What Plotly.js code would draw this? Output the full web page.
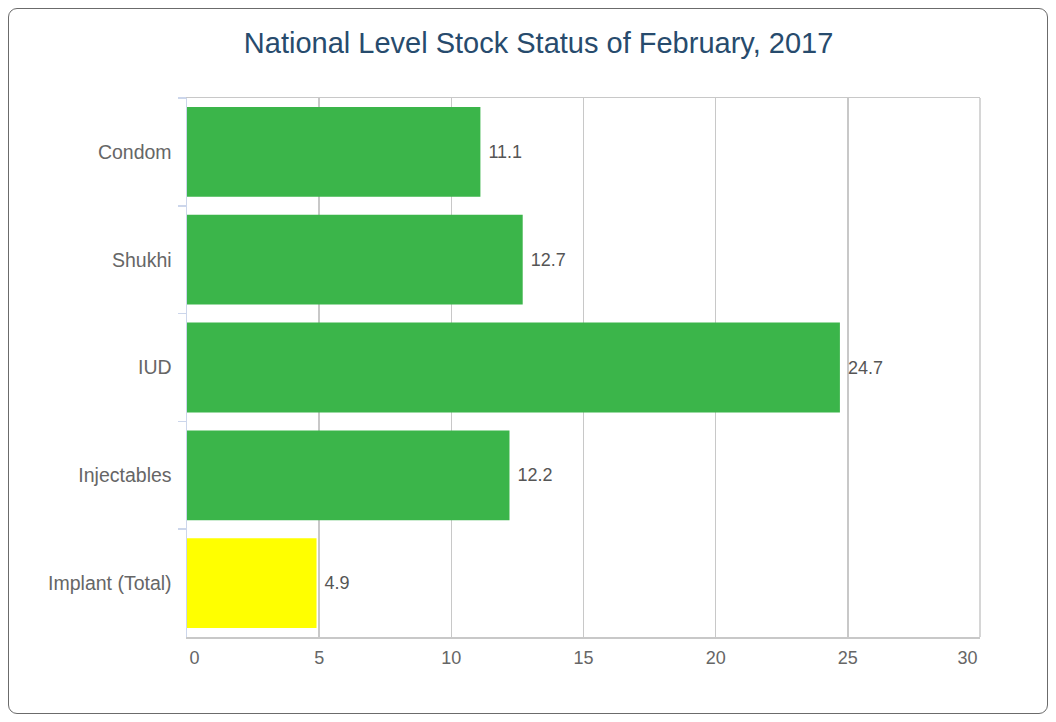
<!DOCTYPE html>
<html>
<head>
<meta charset="utf-8">
<script src="https://cdn.plot.ly/plotly-3.0.1.min.js"></script>
<style>
  html, body { margin: 0; padding: 0; background: #fff; }
  #wrap { position: relative; width: 1056px; height: 722px; }
  #chart { width: 1056px; height: 722px; }
  #frame { position: absolute; left: 8px; top: 8px; width: 1040px; height: 706px;
           border: 1.5px solid #6b6b6b; border-radius: 9px; pointer-events: none; box-sizing: border-box; }
</style>
</head>
<body>
<div id="wrap">
  <div id="chart"></div>
  <div id="frame"></div>
</div>
<script>
const categories = ["Condom", "Shukhi", "IUD", "Injectables", "Implant (Total)"];
const values = [11.1, 12.7, 24.7, 12.2, 4.9];
const barColors = ["#3bb54a", "#3bb54a", "#3bb54a", "#3bb54a", "#ffff00"];
const xTicks = [0, 5, 10, 15, 20, 25, 30];
const xTickText = ["\u00a0\u00a0\u00a00", "5", "10", "15", "20", "25", "30\u00a0\u00a0\u00a0\u00a0\u00a0"];

const fontFamily = "'Liberation Sans', Arial, Helvetica, sans-serif";
const NB = "\u00a0";

const trace = {
  type: "bar",
  orientation: "h",
  y: categories,
  x: values,
  marker: { color: barColors, line: { width: 0 } },
  text: values.map(v => NB + v.toFixed(1)),
  textposition: "outside",
  cliponaxis: false,
  textfont: { family: fontFamily, size: 18, color: "#555555" },
  hoverinfo: "x+y"
};

const layout = {
  width: 1056,
  height: 722,
  margin: { l: 187, r: 76, t: 98, b: 85 },
  paper_bgcolor: "#ffffff",
  plot_bgcolor: "#ffffff",
  showlegend: false,
  bargap: 0.167,
  font: { family: fontFamily, color: "#666666" },
  title: {
    text: "National Level Stock Status of February, 2017",
    font: { family: fontFamily, size: 29, color: "#274b6d" },
    x: 0.51, xanchor: "center",
    y: 0.94, yanchor: "middle"
  },
  xaxis: {
    range: [0, 30],
    tickvals: xTicks,
    ticktext: xTickText,
    showgrid: true,
    gridcolor: "#c8c8c8",
    gridwidth: 1.5,
    zeroline: false,
    showline: true,
    mirror: true,
    linecolor: "#c8c8c8",
    linewidth: 1.5,
    ticks: "",
    ticklabelstandoff: 4,
    tickfont: { family: fontFamily, size: 18, color: "#666666" },
    fixedrange: true
  },
  yaxis: {
    autorange: "reversed",
    type: "category",
    showgrid: false,
    zeroline: false,
    showline: true,
    linecolor: "#ccd6eb",
    linewidth: 1.5,
    ticks: "outside",
    tickson: "boundaries",
    ticklen: 8,
    tickwidth: 1.5,
    tickcolor: "#ccd6eb",
    ticklabelstandoff: 10,
    tickfont: { family: fontFamily, size: 19.5, color: "#666666" },
    fixedrange: true
  },
  shapes: [{
    type: "line", xref: "paper", yref: "paper",
    x0: 1, x1: 1, y0: 0, y1: 1,
    line: { color: "#c8c8c8", width: 1.5 },
    layer: "above"
  }]
};

Plotly.newPlot("chart", [trace], layout, { displayModeBar: false, staticPlot: true });
</script>
</body>
</html>
